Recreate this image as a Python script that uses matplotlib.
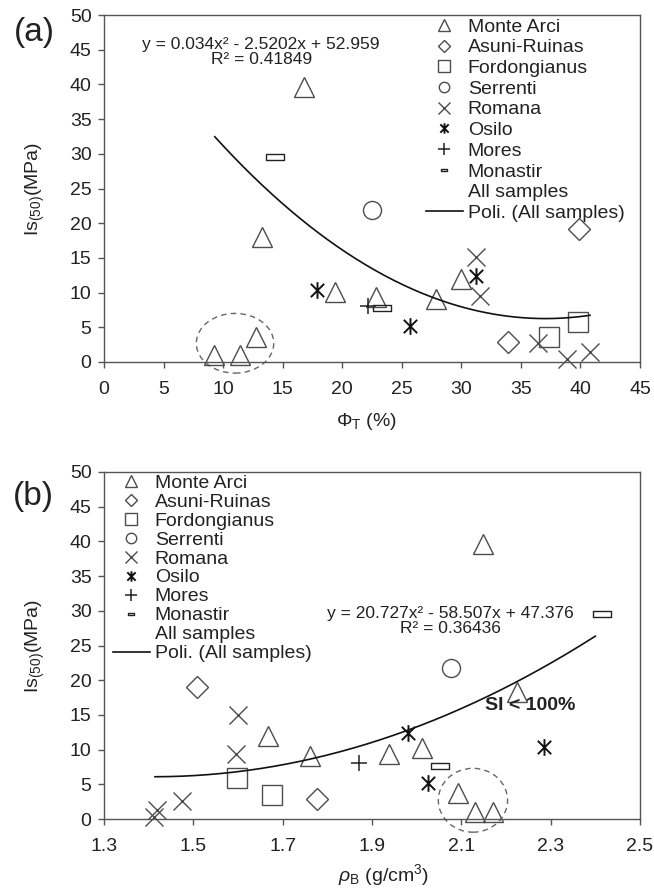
import numpy as np
import matplotlib
matplotlib.use("Agg")
import matplotlib.pyplot as plt
from matplotlib.path import Path
from matplotlib.lines import Line2D
from matplotlib.patches import Ellipse

plt.rcParams['font.family'] = ['Liberation Sans', 'DejaVu Sans']
plt.rcParams['mathtext.fontset'] = 'custom'
plt.rcParams['mathtext.rm'] = 'Liberation Sans'
plt.rcParams['mathtext.it'] = 'Liberation Sans:italic'

# ---------------- data ----------------
series_names = ["Monte Arci", "Asuni-Ruinas", "Fordongianus", "Serrenti",
                "Romana", "Osilo", "Mores", "Monastir"]

# panel (a): total porosity (%) vs Is(50) (MPa)
phi_monte_arci = [9.2, 11.4, 12.8, 13.3, 16.8, 19.4, 22.8, 27.9, 30.0]
is_a_monte_arci = [1.0, 1.0, 3.6, 18.0, 39.6, 10.1, 9.3, 9.1, 12.0]
phi_asuni = [33.9, 39.9]
is_a_asuni = [2.9, 19.2]
phi_fordongianus = [37.4, 39.8]
is_a_fordongianus = [3.6, 5.8]
phi_serrenti = [22.5]
is_a_serrenti = [21.9]
phi_romana = [31.2, 31.6, 36.4, 38.9, 40.8]
is_a_romana = [15.1, 9.5, 2.7, 0.4, 1.4]
phi_osilo = [17.9, 31.2, 25.7]
is_a_osilo = [10.4, 12.4, 5.2]
phi_mores = [22.2]
is_a_mores = [8.1]
phi_monastir = [14.35, 23.3]
is_a_monastir = [29.5, 7.8]
poly_a = [0.034, -2.5202, 52.959]
poly_a_range = [9.3, 40.8]

# panel (b): bulk density (g/cm3) vs Is(50) (MPa)
rho_monte_arci = [2.093, 2.131, 2.171, 2.224, 2.149, 1.667, 1.761, 1.939, 2.011]
is_b_monte_arci = [3.7, 1.0, 1.0, 18.3, 39.6, 12.0, 9.1, 9.4, 10.2]
rho_asuni = [1.508, 1.777]
is_b_asuni = [19.0, 2.9]
rho_fordongianus = [1.598, 1.675]
is_b_fordongianus = [5.9, 3.5]
rho_serrenti = [2.077]
is_b_serrenti = [21.7]
rho_romana = [1.600, 1.595, 1.474, 1.412, 1.418]
is_b_romana = [15.0, 9.4, 2.6, 0.3, 1.3]
rho_osilo = [2.285, 1.981, 2.026]
is_b_osilo = [10.4, 12.4, 5.2]
rho_mores = [1.871]
is_b_mores = [8.0]
rho_monastir = [2.415, 2.052]
is_b_monastir = [29.5, 7.6]
poly_b = [20.727, -58.507, 47.376]
poly_b_range = [1.414, 2.40]

xticks_a = [0, 5, 10, 15, 20, 25, 30, 35, 40, 45]
xticks_b = [1.3, 1.5, 1.7, 1.9, 2.1, 2.3, 2.5]
yticks = [0, 5, 10, 15, 20, 25, 30, 35, 40, 45, 50]

eq_a = "y = 0.034x² - 2.5202x + 52.959\nR² = 0.41849"
eq_b = "y = 20.727x² - 58.507x + 47.376\nR² = 0.36436"

# ---------------- styles ----------------
EC = '#4d4d4d'
osilo_path = Path([(-1, -1), (1, 1), (-1, 1), (1, -1), (0, -1.25), (0, 1.25)],
                  [Path.MOVETO, Path.LINETO, Path.MOVETO, Path.LINETO, Path.MOVETO, Path.LINETO])
rect_path = Path([(-1.5, -0.5), (1.5, -0.5), (1.5, 0.5), (-1.5, 0.5), (-1.5, -0.5)],
                 [Path.MOVETO, Path.LINETO, Path.LINETO, Path.LINETO, Path.CLOSEPOLY])

styles = {
    "Monte Arci": dict(marker='^', ms=15, mfc='none', mec=EC, mew=1.0),
    "Asuni-Ruinas": dict(marker='D', ms=11, mfc='none', mec=EC, mew=1.0),
    "Fordongianus": dict(marker='s', ms=14, mfc='none', mec=EC, mew=1.0),
    "Serrenti": dict(marker='o', ms=13, mfc='none', mec=EC, mew=1.0),
    "Romana": dict(marker='x', ms=13, mfc='none', mec=EC, mew=1.0),
    "Osilo": dict(marker=osilo_path, ms=12, mfc='none', mec='#111111', mew=1.4),
    "Mores": dict(marker='+', ms=12, mfc='none', mec='#222222', mew=1.1),
    "Monastir": dict(marker=rect_path, ms=13, mfc='none', mec='#222222', mew=1.0),
}
legend_ms = {"Monte Arci": 8, "Asuni-Ruinas": 6, "Fordongianus": 8, "Serrenti": 7.5,
             "Romana": 8, "Osilo": 7.5, "Mores": 8, "Monastir": 5}

data_a = [(phi_monte_arci, is_a_monte_arci), (phi_asuni, is_a_asuni),
          (phi_fordongianus, is_a_fordongianus), (phi_serrenti, is_a_serrenti),
          (phi_romana, is_a_romana), (phi_osilo, is_a_osilo),
          (phi_mores, is_a_mores), (phi_monastir, is_a_monastir)]
data_b = [(rho_monte_arci, is_b_monte_arci), (rho_asuni, is_b_asuni),
          (rho_fordongianus, is_b_fordongianus), (rho_serrenti, is_b_serrenti),
          (rho_romana, is_b_romana), (rho_osilo, is_b_osilo),
          (rho_mores, is_b_mores), (rho_monastir, is_b_monastir)]

W, H = 654, 892
fig = plt.figure(figsize=(W / 100, H / 100), dpi=100)
ax1 = fig.add_axes([104 / W, 1 - 362 / H, 536 / W, 347 / H])
ax2 = fig.add_axes([104 / W, 1 - 819 / H, 536 / W, 347 / H])

SPINE = '#555555'
FS = 14
TC = '#222222'


def style_axes(ax, xlim, xticks):
    ax.set_xlim(*xlim)
    ax.set_ylim(0, 50)
    ax.set_xticks(xticks)
    ax.set_yticks(yticks)
    ax.set_xticklabels([f"{t:g}" for t in xticks])
    for s in ax.spines.values():
        s.set_color(SPINE)
        s.set_linewidth(1.0)
    ax.tick_params(axis='both', direction='out', length=4, width=1.0,
                   color=SPINE, labelsize=FS, labelcolor=TC)
    ax.tick_params(axis='x', pad=10)
    ax.tick_params(axis='y', pad=5)
    ax.set_ylabel(r'Is$_{(50)}$(MPa)', fontsize=FS, color=TC, labelpad=16)


def draw_panel(ax, data, poly, prange):
    handles = []
    for name, (xs, ys) in zip(series_names, data):
        ax.plot(xs, ys, linestyle='none', clip_on=False, **styles[name])
        st = dict(styles[name])
        st['ms'] = legend_ms[name]
        handles.append(Line2D([], [], linestyle='none', label=name, **st))
    handles.append(Line2D([], [], linestyle='none', marker=None, label='All samples'))
    xx = np.linspace(prange[0], prange[1], 200)
    yy = np.polyval(poly, xx)
    h, = ax.plot(xx, yy, color='#111111', lw=1.2, label='Poli. (All samples)')
    handles.append(h)
    return handles


style_axes(ax1, (0, 45), xticks_a)
style_axes(ax2, (1.3, 2.5), xticks_b)
ax2.set_xticklabels([f"{t:.1f}" for t in xticks_b])

h1 = draw_panel(ax1, data_a, poly_a, poly_a_range)
h2 = draw_panel(ax2, data_b, poly_b, poly_b_range)

ax1.set_xlabel(r'$\Phi_\mathrm{T}$ (%)', fontsize=FS, color=TC, labelpad=9)
ax2.set_xlabel(r'$\rho_\mathrm{B}$ (g/cm$^3$)', fontsize=FS, color=TC, labelpad=5)
ax1.xaxis.label.set_x((367 - 104) / 536)
ax2.xaxis.label.set_x((383 - 104) / 536)

# equations
ax1.text(13.2, 44.6, eq_a, ha='center', va='center', fontsize=12.5,
         color=TC, linespacing=1.0)
ax2.text(2.075, 28.6, eq_b, ha='center', va='center', fontsize=12.5,
         color=TC, linespacing=1.0)
ax2.text(2.254, 16.4, 'SI < 100%', ha='center', va='center', fontsize=14,
         fontweight='bold', color=TC)

# dashed ellipses
ax1.add_patch(Ellipse((11.0, 2.7), 6.5, 8.6, fill=False, ls=(0, (4, 3)),
                      ec='#666666', lw=1.0, clip_on=False))
ax2.add_patch(Ellipse((2.126, 2.7), 0.155, 9.2, fill=False, ls=(0, (4, 3)),
                      ec='#666666', lw=1.0, clip_on=False))

# legends
leg_kw = dict(frameon=False, fontsize=FS, handlelength=1.9, handletextpad=0.25,
              borderpad=0, borderaxespad=0, numpoints=1)
l1 = fig.legend(handles=h1, loc='upper left', bbox_to_anchor=(426 / W, 1 - 18 / H),
                labelspacing=0.16, **leg_kw)
l2 = fig.legend(handles=h2, loc='upper left', bbox_to_anchor=(113 / W, 1 - 474 / H),
                labelspacing=0.07, **leg_kw)
for leg in (l1, l2):
    for t in leg.get_texts():
        t.set_color(TC)

fig.text(34 / W, 1 - 32 / H, '(a)', fontsize=24, ha='center', va='center', color=TC)
fig.text(33 / W, 1 - 497 / H, '(b)', fontsize=24, ha='center', va='center', color=TC)

fig.savefig('out.png', dpi=100)
